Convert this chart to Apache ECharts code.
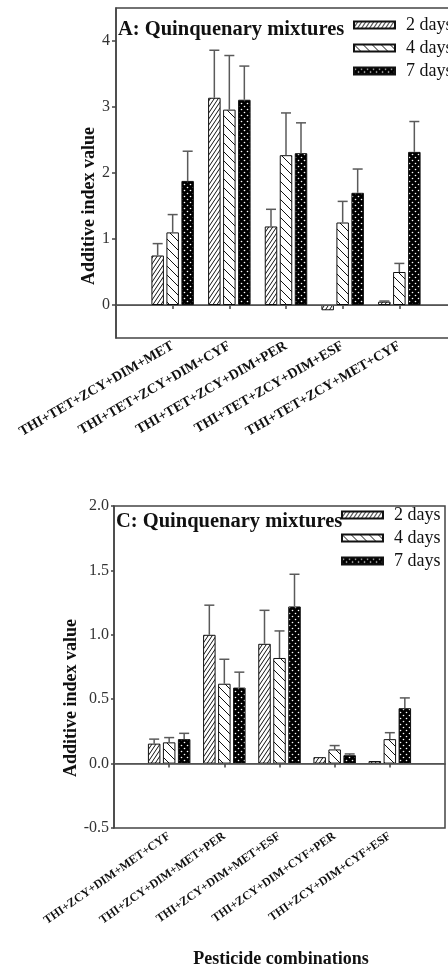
<!DOCTYPE html>
<html>
<head>
<meta charset="utf-8">
<script src="https://cdn.jsdelivr.net/npm/echarts@6/dist/echarts.min.js"></script>
<style>
  html, body { margin: 0; padding: 0; background: #fff; overflow: hidden; }
  #chart { width: 460px; height: 972px; }
</style>
</head>
<body>
<div id="chart"></div>
<script>
// panel A - quinquenary mixtures
const catsA = ["THI+TET+ZCY+DIM+MET", "THI+TET+ZCY+DIM+CYF", "THI+TET+ZCY+DIM+PER", "THI+TET+ZCY+DIM+ESF", "THI+TET+ZCY+MET+CYF"];
const a2 = [0.75, 3.14, 1.19, -0.08, 0.05];
const a2Err = [0.18, 0.72, 0.26, 0, 0.01];
const a4 = [1.10, 2.96, 2.27, 1.25, 0.50];
const a4Err = [0.27, 0.82, 0.64, 0.32, 0.13];
const a7 = [1.88, 3.11, 2.30, 1.70, 2.32];
const a7Err = [0.45, 0.51, 0.46, 0.36, 0.46];
const yTicksA = [0, 1, 2, 3, 4];

// panel C - quinquenary mixtures
const catsC = ["THI+ZCY+DIM+MET+CYF", "THI+ZCY+DIM+MET+PER", "THI+ZCY+DIM+MET+ESF", "THI+ZCY+DIM+CYF+PER", "THI+ZCY+DIM+CYF+ESF"];
const c2 = [0.155, 1.00, 0.93, 0.05, 0.02];
const c2Err = [0.035, 0.23, 0.26, 0, 0];
const c4 = [0.165, 0.62, 0.82, 0.11, 0.19];
const c4Err = [0.037, 0.19, 0.21, 0.03, 0.05];
const c7 = [0.19, 0.59, 1.22, 0.065, 0.43];
const c7Err = [0.045, 0.12, 0.25, 0.01, 0.08];

const dayNames = ["2 days", "4 days", "7 days"];
const xTicks = [1, 2, 3, 4, 5];

const serif = "'Liberation Serif', 'DejaVu Serif', serif";
const axisColor = "#444";
const errColor = "#5a5a5a";

// fill patterns for the bars
function makeTile(w, h, draw) {
  const c = document.createElement("canvas");
  c.width = w;
  c.height = h;
  draw(c.getContext("2d"), w, h);
  return { image: c, repeat: "repeat" };
}

const fwdHatch = makeTile(4, 6, (ctx, w, h) => {
  ctx.fillStyle = "#fff";
  ctx.fillRect(0, 0, w, h);
  ctx.strokeStyle = "#111";
  ctx.lineWidth = 1;
  for (let k = -1; k <= 1; k++) {
    ctx.beginPath();
    ctx.moveTo(k * w, h);
    ctx.lineTo(k * w + w, 0);
    ctx.stroke();
  }
});

const backHatch = makeTile(9, 9, (ctx, w, h) => {
  ctx.fillStyle = "#fff";
  ctx.fillRect(0, 0, w, h);
  ctx.strokeStyle = "#111";
  ctx.lineWidth = 1;
  for (let k = -1; k <= 1; k++) {
    ctx.beginPath();
    ctx.moveTo(k * w, 0);
    ctx.lineTo(k * w + w, h);
    ctx.stroke();
  }
});

const dots = makeTile(6, 6, (ctx, w, h) => {
  ctx.fillStyle = "#000";
  ctx.fillRect(0, 0, w, h);
  ctx.fillStyle = "#fff";
  [[1.5, 1.5], [4.5, 4.5]].forEach(([x, y]) => {
    ctx.beginPath();
    ctx.arc(x, y, 0.8, 0, Math.PI * 2);
    ctx.fill();
  });
});

const fills = [fwdHatch, backHatch, dots];

const chart = echarts.init(document.getElementById("chart"));

function barSeries(idx, gridIdx, vals, withZero) {
  const s = {
    type: "bar",
    name: dayNames[idx],
    xAxisIndex: gridIdx,
    yAxisIndex: gridIdx,
    barWidth: 12.5,
    barGap: "20%",
    data: vals.map((v, i) => [xTicks[i], v]),
    itemStyle: { color: fills[idx], borderColor: "#111", borderWidth: 1 },
    silent: true,
  };
  if (withZero) {
    s.markLine = {
      silent: true,
      symbol: "none",
      label: { show: false },
      lineStyle: { color: "#555", width: 1, type: "solid" },
      data: [{ yAxis: 0 }],
    };
  }
  return s;
}

// error bars, drawn upward only, shifted onto each bar of the group
function errorSeries(gridIdx, groups) {
  const data = [];
  groups.forEach(([vals, errs], k) => {
    vals.forEach((v, i) => data.push([xTicks[i], v, errs[i], k]));
  });
  return {
    type: "custom",
    xAxisIndex: gridIdx,
    yAxisIndex: gridIdx,
    silent: true,
    z: 3,
    data: data,
    renderItem: (params, api) => {
      const e = api.value(2);
      if (!(e > 0)) return null;
      const x = api.value(0), y = api.value(1), k = api.value(3);
      const p0 = api.coord([x, y]);
      const p1 = api.coord([x, y + e]);
      const px = p0[0] + (k - 1) * 15;
      const st = { stroke: errColor, lineWidth: 1.5 };
      return {
        type: "group",
        children: [
          { type: "line", shape: { x1: px, y1: p0[1], x2: px, y2: p1[1] }, style: st },
          { type: "line", shape: { x1: px - 5, y1: p1[1], x2: px + 5, y2: p1[1] }, style: st },
        ],
      };
    },
  };
}

function xAxisFor(gridIdx, cats, size, rot) {
  return {
    type: "value",
    gridIndex: gridIdx,
    min: 0,
    max: 6,
    splitLine: { show: false },
    axisLine: { lineStyle: { color: axisColor, width: 1.5 } },
    axisTick: { customValues: xTicks, length: 4, lineStyle: { color: axisColor, width: 1.5 } },
    axisLabel: {
      customValues: xTicks,
      rotate: rot,
      margin: 7,
      formatter: (v) => cats[v - 1] || "",
      fontFamily: serif,
      fontWeight: "bold",
      fontSize: size,
      color: "#111",
    },
  };
}

const yLabelStyle = { fontFamily: serif, fontSize: 16, color: "#333" };

const legendBase = {
  orient: "vertical",
  icon: "rect",
  padding: 0,
  itemWidth: 41,
  itemHeight: 7,
  itemGap: 5,
  data: dayNames,
  selectedMode: false,
  textStyle: { fontFamily: serif, fontSize: 18, color: "#111", lineHeight: 18, padding: [0, 0, 0, 6] },
};

const titleStyle = { fontFamily: serif, fontWeight: "bold", fontSize: 20.5, color: "#111" };
const nameFont = "bold 18px " + serif;

const option = {
  animation: false,
  title: [
    { text: "A: Quinquenary mixtures", left: 118, top: 19, padding: 0, textStyle: titleStyle },
    { text: "C: Quinquenary mixtures", left: 116, top: 511, padding: 0, textStyle: titleStyle },
  ],
  legend: [
    Object.assign({}, legendBase, { left: 353, top: 16 }),
    Object.assign({}, legendBase, { left: 341, top: 506 }),
  ],
  grid: [
    { left: 116, top: 8, width: 340, height: 330, show: true, borderColor: axisColor, borderWidth: 1.5 },
    { left: 114, top: 506, width: 331, height: 322, show: true, borderColor: axisColor, borderWidth: 1.5 },
  ],
  xAxis: [xAxisFor(0, catsA, 14, 30), xAxisFor(1, catsC, 12, 35)],
  yAxis: [
    {
      type: "value",
      gridIndex: 0,
      min: -0.5,
      max: 4.5,
      splitLine: { show: false },
      axisLine: { show: true, lineStyle: { color: axisColor, width: 1.5 } },
      axisTick: { show: true, customValues: yTicksA, length: 4, lineStyle: { color: axisColor, width: 1.5 } },
      axisLabel: Object.assign({ customValues: yTicksA, margin: 6 }, yLabelStyle),
    },
    {
      type: "value",
      gridIndex: 1,
      min: -0.5,
      max: 2.0,
      interval: 0.5,
      splitLine: { show: false },
      axisLine: { show: true, lineStyle: { color: axisColor, width: 1.5 } },
      axisTick: { show: true, length: 3, lineStyle: { color: axisColor, width: 1.5 } },
      axisLabel: Object.assign({ margin: 5, formatter: (v) => v.toFixed(1) }, yLabelStyle),
    },
  ],
  graphic: [
    {
      type: "text", x: 89, y: 206, rotation: Math.PI / 2,
      style: { text: "Additive index value", font: nameFont, fill: "#111", textAlign: "center", textVerticalAlign: "middle" },
    },
    {
      type: "text", x: 71, y: 698, rotation: Math.PI / 2,
      style: { text: "Additive index value", font: nameFont, fill: "#111", textAlign: "center", textVerticalAlign: "middle" },
    },
    {
      type: "text", x: 281, y: 959,
      style: { text: "Pesticide combinations", font: nameFont, fill: "#111", textAlign: "center", textVerticalAlign: "middle" },
    },
  ],
  series: [
    barSeries(0, 0, a2, true),
    barSeries(1, 0, a4, false),
    barSeries(2, 0, a7, false),
    errorSeries(0, [[a2, a2Err], [a4, a4Err], [a7, a7Err]]),
    barSeries(0, 1, c2, true),
    barSeries(1, 1, c4, false),
    barSeries(2, 1, c7, false),
    errorSeries(1, [[c2, c2Err], [c4, c4Err], [c7, c7Err]]),
  ],
};

chart.setOption(option);
</script>
</body>
</html>
